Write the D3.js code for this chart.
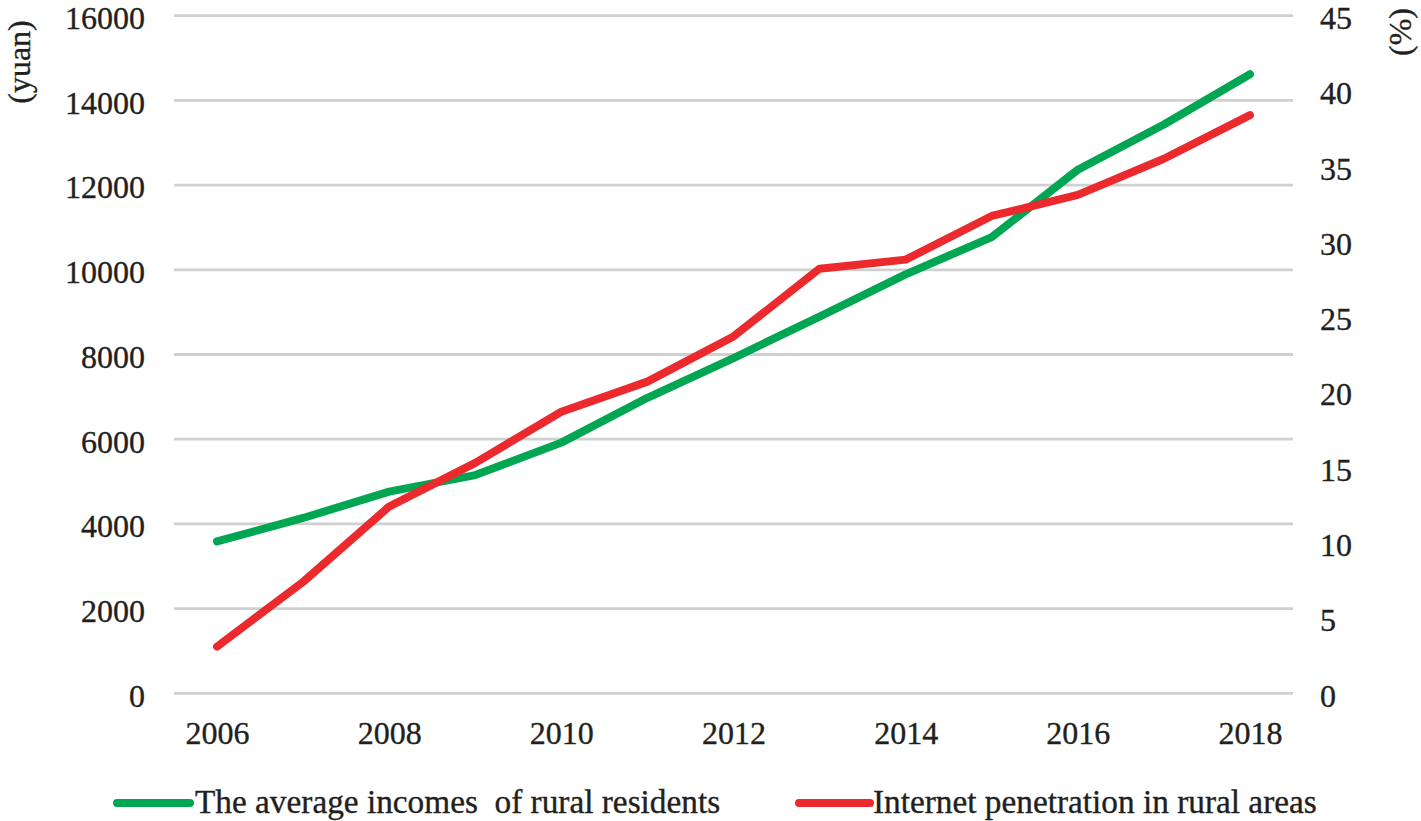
<!DOCTYPE html>
<html>
<head>
<meta charset="utf-8">
<script src="https://cdn.jsdelivr.net/npm/d3@7"></script>
<style>
  html, body { margin: 0; padding: 0; background: #fff; }
  svg text { font-family: "Liberation Serif", "Times New Roman", serif; fill: #231f20; stroke: #231f20; stroke-width: 0.35px; white-space: pre; }
</style>
</head>
<body>
<svg id="chart" width="1421" height="821"></svg>
<script>
const years = ["2006","2007","2008","2009","2010","2011","2012","2013","2014","2015","2016","2017","2018"];
const incomes = [3587, 4140, 4761, 5153, 5919, 6977, 7917, 8896, 9892, 10772, 12363, 13432, 14617];
const penetration = [3.1, 7.4, 12.4, 15.3, 18.7, 20.7, 23.7, 28.2, 28.8, 31.7, 33.1, 35.5, 38.4];
const leftTicks = [0, 2000, 4000, 6000, 8000, 10000, 12000, 14000, 16000];
const rightTicks = [0, 5, 10, 15, 20, 25, 30, 35, 40, 45];
const seriesNames = ["The average incomes  of rural residents", "Internet penetration in rural areas"];
const colors = ["#00a651", "#ec2a2e"];

const svg = d3.select("#chart");
const pLeft = 174, pRight = 1293, pTop = 15.7, pBottom = 693.3;

const x = d3.scalePoint().domain(years).range([pLeft, pRight]).padding(0.5);
const yL = d3.scaleLinear().domain([0, 16000]).range([pBottom, pTop]);
const yR = d3.scaleLinear().domain([0, 45]).range([pBottom, pTop]);

// gridlines
svg.append("g").selectAll("line").data(leftTicks).join("line")
  .attr("x1", pLeft).attr("x2", pRight)
  .attr("y1", d => yL(d)).attr("y2", d => yL(d))
  .attr("stroke", "#d0d0d0").attr("stroke-width", 2.8);

// left axis
const axL = svg.append("g").attr("transform", `translate(${pLeft},0)`)
  .call(d3.axisLeft(yL).tickValues(leftTicks).tickSize(0).tickPadding(29).tickFormat(d3.format("d")));
axL.select(".domain").remove();
axL.selectAll("text").attr("font-size", 32).attr("dy", "0.4em")
  .attr("font-family", "Liberation Serif").attr("fill", "#231f20");

// right axis
const axR = svg.append("g").attr("transform", `translate(${pRight},0)`)
  .call(d3.axisRight(yR).tickValues(rightTicks).tickSize(0).tickPadding(27).tickFormat(d3.format("d")));
axR.select(".domain").remove();
axR.selectAll("text").attr("font-size", 32).attr("dy", "0.4em")
  .attr("font-family", "Liberation Serif").attr("fill", "#231f20");

// x axis
const axX = svg.append("g").attr("transform", `translate(0,${pBottom})`)
  .call(d3.axisBottom(x).tickValues(years.filter((d, i) => i % 2 === 0)).tickSize(0).tickPadding(28));
axX.select(".domain").remove();
axX.selectAll("text").attr("font-size", 32).attr("dy", "0.71em")
  .attr("font-family", "Liberation Serif").attr("fill", "#231f20");

// axis titles
svg.append("text").attr("transform", "translate(30,62) rotate(-90)")
  .attr("text-anchor", "middle").attr("font-size", 32).text("(yuan)");
svg.append("text").attr("transform", "translate(1411,32) rotate(-90)")
  .attr("text-anchor", "middle").attr("font-size", 32).text("(%)");

// lines
const lineL = d3.line().x((d, i) => x(years[i])).y(d => yL(d));
const lineR = d3.line().x((d, i) => x(years[i])).y(d => yR(d));
svg.append("path").datum(incomes).attr("d", lineL)
  .attr("fill", "none").attr("stroke", colors[0]).attr("stroke-width", 8)
  .attr("stroke-linecap", "round").attr("stroke-linejoin", "round");
svg.append("path").datum(penetration).attr("d", lineR)
  .attr("fill", "none").attr("stroke", colors[1]).attr("stroke-width", 8)
  .attr("stroke-linecap", "round").attr("stroke-linejoin", "round");

// legend
const legendItems = [
  { name: seriesNames[0], color: colors[0], x1: 117, x2: 190, tx: 195 },
  { name: seriesNames[1], color: colors[1], x1: 799, x2: 870, tx: 873 }
];
const lg = svg.append("g").selectAll("g").data(legendItems).join("g");
lg.append("line").attr("x1", d => d.x1).attr("x2", d => d.x2)
  .attr("y1", 803).attr("y2", 803)
  .attr("stroke", d => d.color).attr("stroke-width", 8).attr("stroke-linecap", "round");
lg.append("text").attr("x", d => d.tx).attr("y", 813).attr("font-size", 33.3)
  .attr("xml:space", "preserve").text(d => d.name);
</script>
</body>
</html>
